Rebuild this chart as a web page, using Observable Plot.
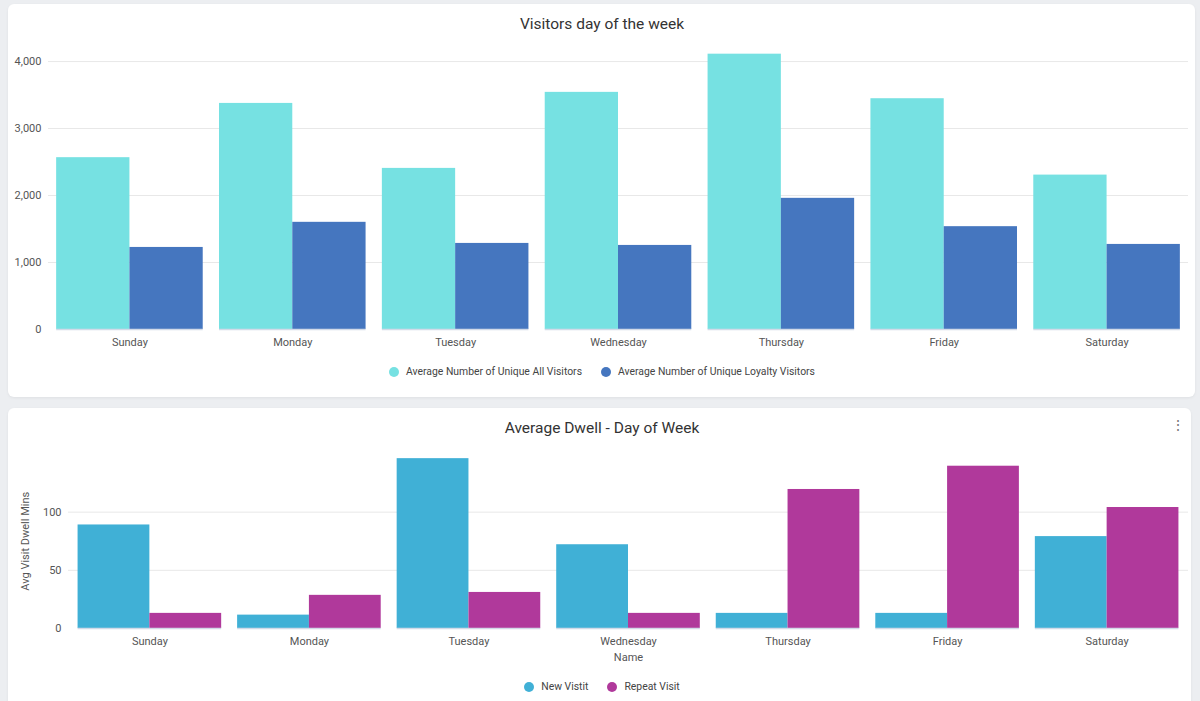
<!DOCTYPE html>
<html><head><meta charset="utf-8">
<script src="https://cdn.jsdelivr.net/npm/d3@7"></script>
<script src="https://cdn.jsdelivr.net/npm/@observablehq/plot@0.6"></script>
<style>
body{margin:0;width:1200px;height:701px;background:#eceef1;font-family:Roboto,sans-serif;position:relative;overflow:hidden}
.card{position:absolute;background:#fff;border-radius:6px;box-shadow:0 1px 3px rgba(0,0,0,0.06)}
.layer{position:absolute;left:0}
.title{position:absolute;left:0;width:1204px;text-align:center;font-size:15.5px;line-height:20px;color:#333}
.legend{position:absolute;left:0;width:1204px;display:flex;justify-content:center;font-size:10.4px;line-height:14px;color:#444}
.item{display:flex;align-items:center;margin:0 9.5px}
.dot{width:10px;height:10px;border-radius:50%;margin-right:7px}
.kebab{position:absolute;left:1171px;top:417px;font-size:14px;color:#777;line-height:16px}
</style></head>
<body>
<div class="card" style="left:8px;top:4px;width:1187px;height:393px"></div>
<div class="card" style="left:8px;top:408px;width:1183px;height:310px"></div>
<div class="title" style="top:14px">Visitors day of the week</div>
<div class="title" style="top:418px">Average Dwell - Day of Week</div>
<div class="kebab">⋮</div>
<div id="top"></div>
<div id="bottom"></div>
<div class="legend" id="legTop" style="top:365px"></div>
<div class="legend" id="legBottom" style="top:680px"></div>
<script>
const days = ["Sunday","Monday","Tuesday","Wednesday","Thursday","Friday","Saturday"];
const visitorSeries = ["Average Number of Unique All Visitors","Average Number of Unique Loyalty Visitors"];
const visitorColors = ["#76e1e2","#4576bf"];
const allVisitors = [2565, 3375, 2405, 3540, 4110, 3445, 2305];
const loyaltyVisitors = [1225, 1600, 1285, 1255, 1958, 1535, 1270];
const visitorTicks = [0, 1000, 2000, 3000, 4000];

const dwellSeries = ["New Vistit","Repeat Visit"];
const dwellColors = ["#40b0d6","#b0399b"];
const newVisit = [89, 11.5, 146, 72, 13, 13, 79];
const repeatVisit = [13, 28.5, 31, 13, 119.5, 139.5, 104];
const dwellTicks = [0, 50, 100];

const visitorData = days.flatMap((d, i) => [
  {day: d, series: visitorSeries[0], value: allVisitors[i]},
  {day: d, series: visitorSeries[1], value: loyaltyVisitors[i]}
]);
const dwellData = days.flatMap((d, i) => [
  {day: d, series: dwellSeries[0], value: newVisit[i]},
  {day: d, series: dwellSeries[1], value: repeatVisit[i]}
]);

const style = {fontFamily: "Roboto, sans-serif", fontSize: "11px", color: "#555", background: "transparent", overflow: "visible"};

function chart(cfg) {
  const dims = {width: 1200, height: cfg.height, marginLeft: cfg.ml, marginRight: 12, marginTop: cfg.mt, marginBottom: cfg.mb};
  const under = Plot.plot({
    ...dims, style,
    x: {type: "band", domain: days, paddingInner: 0.1, paddingOuter: cfg.po, round: false},
    y: {domain: cfg.domain},
    marks: [
      Plot.gridY(cfg.ticks.filter(t => t > 0), {stroke: "#e8e8e8", strokeOpacity: 1}),
      Plot.axisY(cfg.ticks, {tickSize: 0, tickPadding: 7, tickFormat: d3.format(","), label: cfg.ylabel, labelAnchor: "center", labelOffset: cfg.ylo, labelArrow: "none"}),
      Plot.axisX({tickSize: 0, tickPadding: 9, label: cfg.xlabel, labelAnchor: "center", labelOffset: 32, labelArrow: "none"})
    ]
  });
  const over = Plot.plot({
    ...dims, style,
    fx: {domain: days, paddingInner: 0.1, paddingOuter: cfg.po, round: false, axis: null, label: null},
    x: {domain: cfg.series, axis: null, padding: 0, round: false},
    y: {domain: cfg.domain, axis: null},
    color: {domain: cfg.series, range: cfg.colors},
    marks: [
      Plot.barY(cfg.data, {fx: "day", x: "series", y: "value", fill: "series"}),
      Plot.ruleY([0], {stroke: "#d2dae8", strokeWidth: 1.5, facet: "exclude"})
    ]
  });
  const host = document.getElementById(cfg.id);
  [under, over].forEach(s => { s.classList.add("layer"); s.style.top = cfg.top + "px"; host.appendChild(s); });
  const leg = document.getElementById(cfg.leg);
  cfg.series.forEach((s, i) => {
    const it = document.createElement("div"); it.className = "item";
    const dot = document.createElement("span"); dot.className = "dot"; dot.style.background = cfg.colors[i];
    const t = document.createElement("span"); t.textContent = s;
    it.appendChild(dot); it.appendChild(t); leg.appendChild(it);
  });
}

chart({id: "top", leg: "legTop", top: 0, height: 355, ml: 48, mt: 51, mb: 26, po: 0.05,
  domain: [0, 4150], ticks: visitorTicks, series: visitorSeries, colors: visitorColors, data: visitorData,
  ylabel: null, xlabel: null, ylo: 40});
chart({id: "bottom", leg: "legBottom", top: 400, height: 270, ml: 68, mt: 53.5, mb: 42, po: 0.06,
  domain: [0, 150], ticks: dwellTicks, series: dwellSeries, colors: dwellColors, data: dwellData,
  ylabel: "Avg Visit Dwell Mins", xlabel: "Name", ylo: 47});
</script>
</body></html>
